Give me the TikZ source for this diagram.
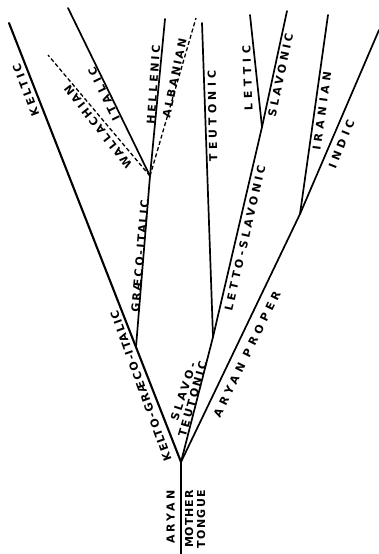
\documentclass[tikz,border=0pt]{standalone}
\usepackage{fontspec}
\setmainfont{DejaVu Sans}
\newcommand\lbl[2]{{\addfontfeature{LetterSpace=#1}#2}}
\begin{document}
\begin{tikzpicture}[x=1pt,y=-1pt,
  br/.style={line width=1.7pt, line cap=round},
  dsh/.style={line width=1.3pt, dash pattern=on 4pt off 2.5pt},
  lab/.style={font=\bfseries\fontsize{11}{11}\selectfont, inner sep=0pt, text=black}]
\useasboundingbox (0,0) rectangle (378,554);
\fill[white] (0,0) rectangle (378,554);
% junctions
\coordinate (root) at (181,556);
\coordinate (F) at (181,462);
\coordinate (KT) at (9,23);
\coordinate (G1) at (136,347);
\coordinate (G2) at (150,176);
\coordinate (HT) at (165,19);
\coordinate (IT) at (68,8);
\coordinate (WT) at (48,55);
\coordinate (AT) at (196,18);
\coordinate (ST) at (213,337);
\coordinate (TT) at (202,23);
\coordinate (LS) at (262,127);
\coordinate (LT) at (250,15);
\coordinate (SLT) at (287,11);
\coordinate (AP) at (300,214);
\coordinate (IRT) at (328,15);
\coordinate (INT) at (379,30);
% branches
\draw[br] (root) -- (F);
\draw[br, line width=2.1pt] (F) -- (KT);
\draw[br] (G1) -- (G2) -- (HT);
\draw[br] (G2) -- (IT);
\draw[dsh] (G2) -- (WT);
\draw[dsh] (G2) -- (AT);
\draw[br] (F) -- (ST) -- (TT);
\draw[br] (ST) -- (LS) -- (LT);
\draw[br] (LS) -- (SLT);
\draw[br] (F) -- (AP) -- (IRT);
\draw[br] (AP) -- (INT);
% labels
\node[lab, rotate=111] (keltic) at (26,90) {\lbl{27}{KELTIC}};
\node[lab, rotate=128] (wallachian) at (98,127) {\lbl{21}{WALLACHIAN}};
\node[lab, rotate=116] (italic) at (104,94) {\lbl{36}{ITALIC}};
\node[lab, rotate=86] (hellenic) at (153.5,85) {\lbl{25}{HELLENIC}};
\node[lab, rotate=78] (albanian) at (174.5,78) {\lbl{22}{ALBANIAN}};
\node[lab, rotate=91] (teutonic) at (212.5,116) {\lbl{37}{TEUTONIC}};
\node[lab, rotate=92] (lettic) at (247.5,78) {\lbl{42}{LETTIC}};
\node[lab, rotate=78] (slavonic) at (280.5,75) {\lbl{30}{SLAVONIC}};
\node[lab, rotate=82] (iranian) at (322,111) {\lbl{41}{IRANIAN}};
\node[lab, rotate=68] (indic) at (341.5,144) {\lbl{38}{INDIC}};
\node[lab, rotate=85] (graecoitalic) at (140,256) {\lbl{19}{GRÆCO-ITALIC}};
\node[lab, rotate=77] (lettoslavonic) at (245,238) {\lbl{30}{LETTO-SLAVONIC}};
\node[lab, rotate=64] (aryanproper) at (247,354) {\lbl{40}{ARYAN PROPER}};
\node[lab, rotate=110] (kelto) at (141,386) {\lbl{14}{KELTO-GRÆCO-ITALIC}};
\node[lab, rotate=72] (slavo) at (183.5,391.5) {\lbl{29}{SLAVO-}};
\node[lab, rotate=74] (teutonic2) at (192.5,399) {\lbl{21}{TEUTONIC}};
\node[lab, rotate=90] (aryan) at (170.5,517) {\lbl{28}{ARYAN}};
\node[lab, rotate=90] (mother) at (189,519) {\lbl{9}{MOTHER}};
\node[lab, rotate=90] (tongue) at (201,519) {\lbl{12}{TONGUE}};
\end{tikzpicture}
\end{document}
